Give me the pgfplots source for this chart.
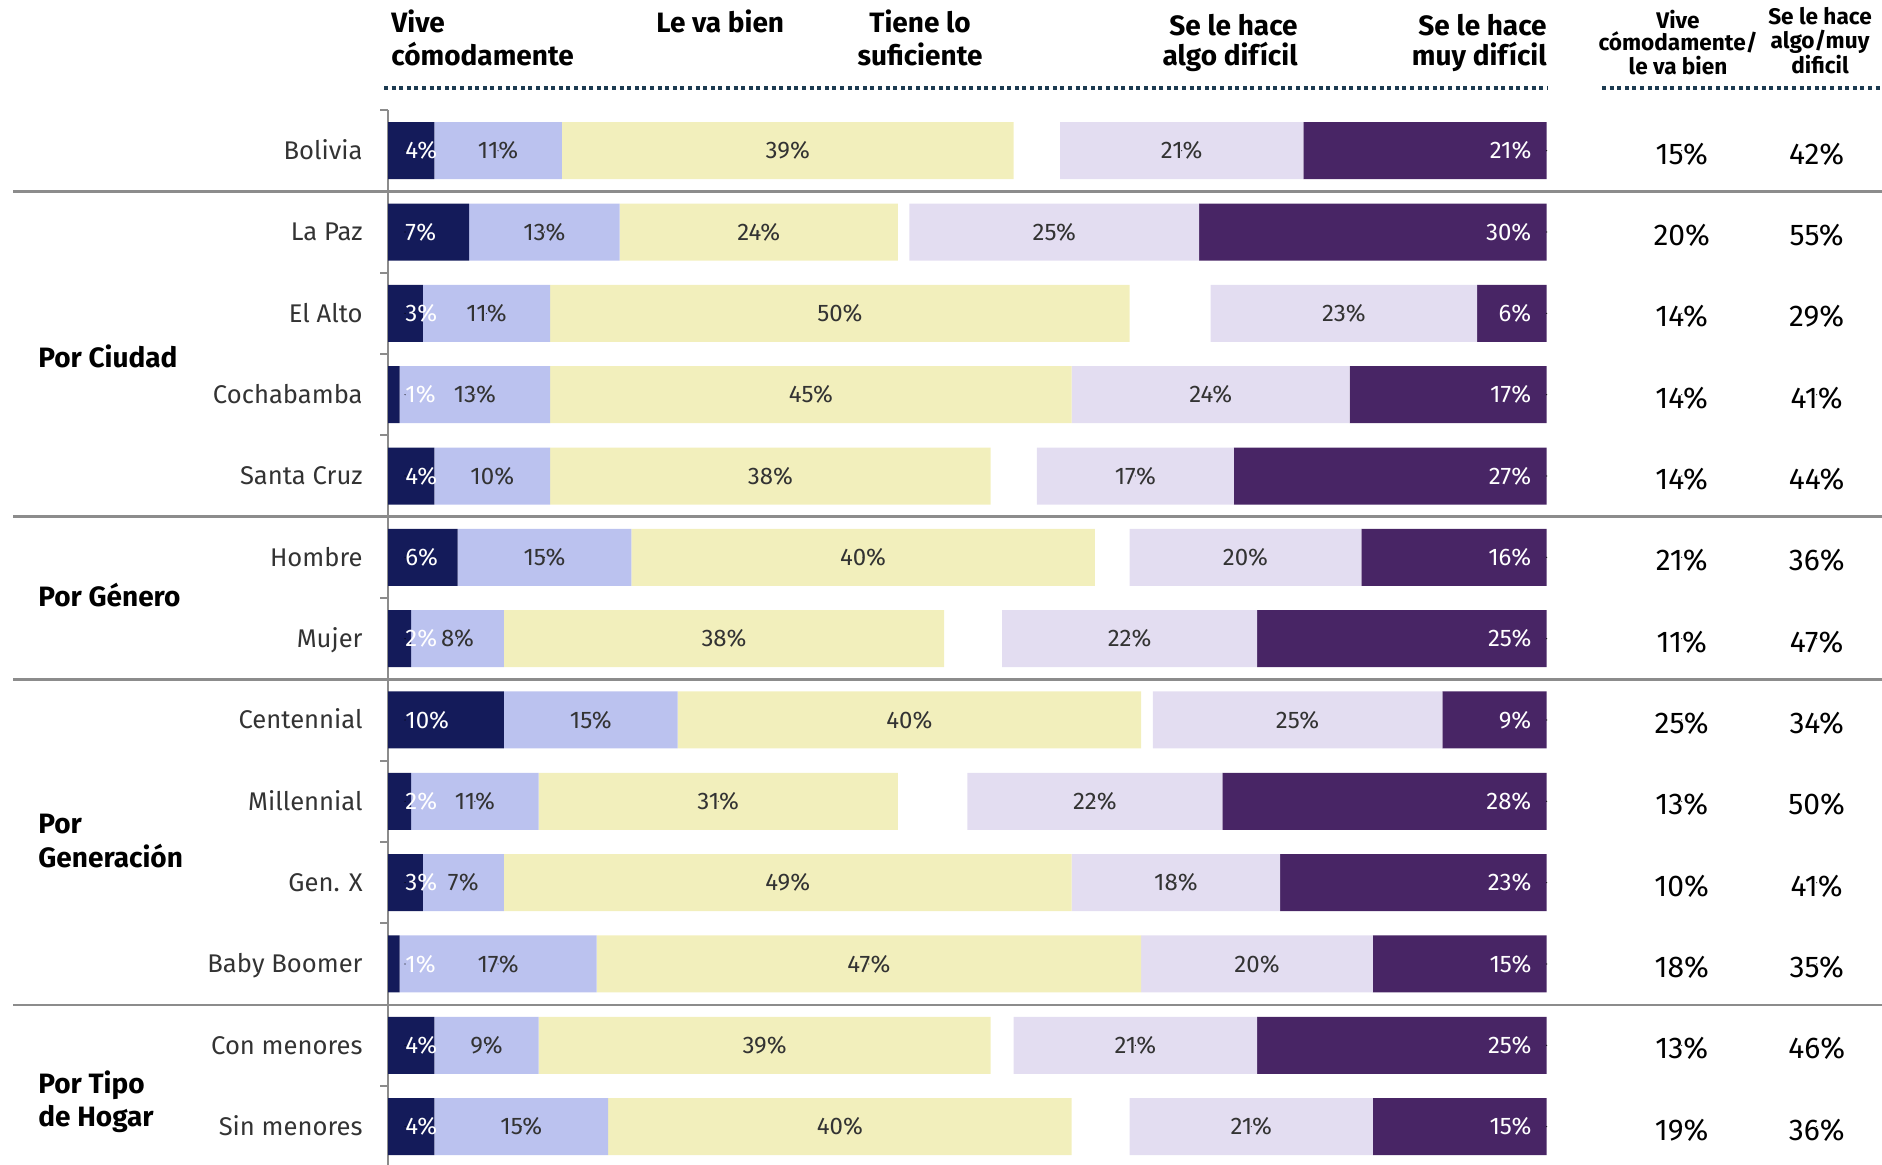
\documentclass[border=0pt]{standalone}
\usepackage{pgfplots}
\pgfplotsset{compat=1.18}
\usepackage{pgfplotstable}
\usepackage{fontspec}
\setmainfont{Fira Sans}
\definecolor{cNavy}{HTML}{141B5A}
\definecolor{cPeri}{HTML}{BBC2EF}
\definecolor{cYel}{HTML}{F2EFBC}
\definecolor{cLav}{HTML}{E3DDF1}
\definecolor{cPur}{HTML}{482565}
\definecolor{cSep}{HTML}{8C8C8C}
\definecolor{cAxis}{HTML}{8C8C8C}
\definecolor{cDot}{HTML}{1C3A50}
\definecolor{cText}{HTML}{333333}
\newcommand\catfont{\fontsize{12.8}{15}\selectfont}
\newcommand\labfont{\fontsize{12}{14}\selectfont}
\newcommand\valfont{\fontsize{15}{18}\selectfont}
\newcommand\grpfont{\bfseries\fontsize{14}{16.5}\selectfont}
\newcommand\hdrfont{\bfseries\fontsize{14}{16.5}\selectfont}
\newcommand\rhdrfont{\bfseries\fontsize{11.3}{13}\selectfont}

\pgfplotstableread{
idx v1 v2 v3 gap v4 v5 c1 c2
0 4 11 39 4 21 21 15 42
1 7 13 24 1 25 30 20 55
2 3 11 50 7 23 6 14 29
3 1 13 45 0 24 17 14 41
4 4 10 38 4 17 27 14 44
5 6 15 40 3 20 16 21 36
6 2 8 38 5 22 25 11 47
7 10 15 40 1 25 9 25 34
8 2 11 31 6 22 28 13 50
9 3 7 49 0 18 23 10 41
10 1 17 47 0 20 15 18 35
11 4 9 39 2 21 25 13 46
12 4 15 40 5 21 15 19 36
}\data

\pgfplotsset{
  lbl/.style={only marks, mark=*, mark size=0.01pt, mark options={draw=none, fill=none},
    point meta=explicit, /pgf/number format/assume math mode=true,
    nodes near coords={\pgfmathprintnumber{\pgfplotspointmeta}\%},
    every node near coord/.append style={inner sep=0pt, #1}},
}

\begin{document}
\begin{tikzpicture}
\path[use as bounding box] (0,0) rectangle (941pt,-582.5pt);
\begin{axis}[
  at={(194pt,-55pt)}, anchor=north west,
  scale only axis, width=579.35pt, height=528.65pt,
  xmin=0, xmax=100, ymin=-0.5, ymax=12.5, y dir=reverse,
  xbar stacked, bar width=28.5pt,
  axis x line=none, axis y line*=left,
  y axis line style={draw=cAxis, line width=1pt},
  ytick={0,...,12},
  yticklabels={Bolivia,La Paz,El Alto,Cochabamba,Santa Cruz,Hombre,Mujer,Centennial,Millennial,Gen. X,Baby Boomer,Con menores,Sin menores},
  major tick length=0pt,
  minor ytick={-0.5,0.5,...,12.5},
  minor tick length=4pt,
  tick align=outside,
  minor tick style={draw=cAxis, line width=1pt},
  yticklabel style={font=\catfont, text=cText, inner sep=0pt, anchor=base east, xshift=-12.5pt, yshift=-4.4pt},
  clip=false,
]
\addplot[fill=cNavy, draw=none] table[x=v1, y=idx]{\data};
\addplot[fill=cPeri, draw=none] table[x=v2, y=idx]{\data};
\addplot[fill=cYel, draw=none] table[x=v3, y=idx]{\data};
\addplot[fill=none, draw=none] table[x=gap, y=idx]{\data};
\addplot[fill=cLav, draw=none] table[x=v4, y=idx]{\data};
\addplot[fill=cPur, draw=none] table[x=v5, y=idx]{\data};
\end{axis}

% segment labels (same geometry, not stacked)
\begin{axis}[
  at={(194pt,-55pt)}, anchor=north west,
  scale only axis, width=579.35pt, height=528.65pt,
  xmin=0, xmax=100, ymin=-0.5, ymax=12.5, y dir=reverse,
  hide axis, clip=false,
]
\addplot[lbl={font=\labfont, text=white, anchor=west}] table[x expr=1.47, y=idx, meta=v1]{\data};
\addplot[lbl={font=\labfont, text=cText, anchor=center}] table[x expr=\thisrow{v1}+\thisrow{v2}/2, y=idx, meta=v2]{\data};
\addplot[lbl={font=\labfont, text=cText, anchor=center}] table[x expr=\thisrow{v1}+\thisrow{v2}+\thisrow{v3}/2, y=idx, meta=v3]{\data};
\addplot[lbl={font=\labfont, text=cText, anchor=center}] table[x expr=100-\thisrow{v5}-\thisrow{v4}/2, y=idx, meta=v4]{\data};
\addplot[lbl={font=\labfont, text=white, anchor=east, xshift=-7.5pt}] table[x expr=100, y=idx, meta=v5]{\data};
\end{axis}

% right summary columns
\begin{axis}[
  at={(801pt,-55pt)}, anchor=north west,
  scale only axis, width=140pt, height=528.65pt,
  xmin=0, xmax=140, ymin=-0.5, ymax=12.5, y dir=reverse,
  hide axis, clip=false,
]
\addplot[lbl={font=\valfont, text=black, anchor=center, yshift=-1.7pt}] table[x expr=39.85, y=idx, meta=c1]{\data};
\addplot[lbl={font=\valfont, text=black, anchor=center, yshift=-1.7pt}] table[x expr=107.35, y=idx, meta=c2]{\data};
\end{axis}

% separators
\draw[draw=cSep, line width=1.2pt] (6.5pt,-95.67pt) -- (941pt,-95.67pt);
\draw[draw=cSep, line width=1.2pt] (6.5pt,-258.3pt) -- (941pt,-258.3pt);
\draw[draw=cSep, line width=1.2pt] (6.5pt,-339.7pt) -- (941pt,-339.7pt);
\draw[draw=cSep, line width=1.2pt] (6.5pt,-502.4pt) -- (941pt,-502.4pt);

% dotted header rules
\draw[cDot, line width=1.8pt, dash pattern=on 2pt off 1.8pt] (192pt,-44pt) -- (773.5pt,-44pt);
\draw[cDot, line width=1.8pt, dash pattern=on 2pt off 1.8pt] (801pt,-44pt) -- (941pt,-44pt);

% group labels
\node[font=\grpfont, anchor=base west, inner sep=0pt] at (19pt,-183.85pt) {Por Ciudad};
\node[font=\grpfont, anchor=base west, inner sep=0pt] at (19pt,-303.25pt) {Por Género};
\node[font=\grpfont, anchor=base west, inner sep=0pt] at (19pt,-416.7pt) {Por};
\node[font=\grpfont, anchor=base west, inner sep=0pt] at (19pt,-433.5pt) {Generación};
\node[font=\grpfont, anchor=base west, inner sep=0pt] at (19pt,-546.5pt) {Por Tipo};
\node[font=\grpfont, anchor=base west, inner sep=0pt] at (19pt,-563pt) {de Hogar};

% column headers
\node[font=\hdrfont, anchor=base west, inner sep=0pt] at (195.5pt,-16.5pt) {Vive};
\node[font=\hdrfont, anchor=base west, inner sep=0pt] at (195.5pt,-33pt) {cómodamente};
\node[font=\hdrfont, anchor=base west, inner sep=0pt] at (328pt,-16.5pt) {Le va bien};
\node[font=\hdrfont, anchor=base, inner sep=0pt] at (460pt,-16.5pt) {Tiene lo};
\node[font=\hdrfont, anchor=base, inner sep=0pt] at (460pt,-33pt) {suficiente};
\node[font=\hdrfont, anchor=base east, inner sep=0pt] at (649pt,-18pt) {Se le hace};
\node[font=\hdrfont, anchor=base east, inner sep=0pt] at (649pt,-33pt) {algo difícil};
\node[font=\hdrfont, anchor=base east, inner sep=0pt] at (773.5pt,-18pt) {Se le hace};
\node[font=\hdrfont, anchor=base east, inner sep=0pt] at (773.5pt,-33pt) {muy difícil};

\node[font=\rhdrfont, anchor=base, inner sep=0pt] at (839pt,-14.2pt) {Vive};
\node[font=\rhdrfont, anchor=base, inner sep=0pt] at (839pt,-25.5pt) {cómodamente/};
\node[font=\rhdrfont, anchor=base, inner sep=0pt] at (839pt,-37.5pt) {le va bien};
\node[font=\rhdrfont, anchor=base, inner sep=0pt] at (910pt,-12.5pt) {Se le hace};
\node[font=\rhdrfont, anchor=base, inner sep=0pt] at (910pt,-24.5pt) {algo/muy};
\node[font=\rhdrfont, anchor=base, inner sep=0pt] at (910pt,-37pt) {dificil};
\end{tikzpicture}
\end{document}
